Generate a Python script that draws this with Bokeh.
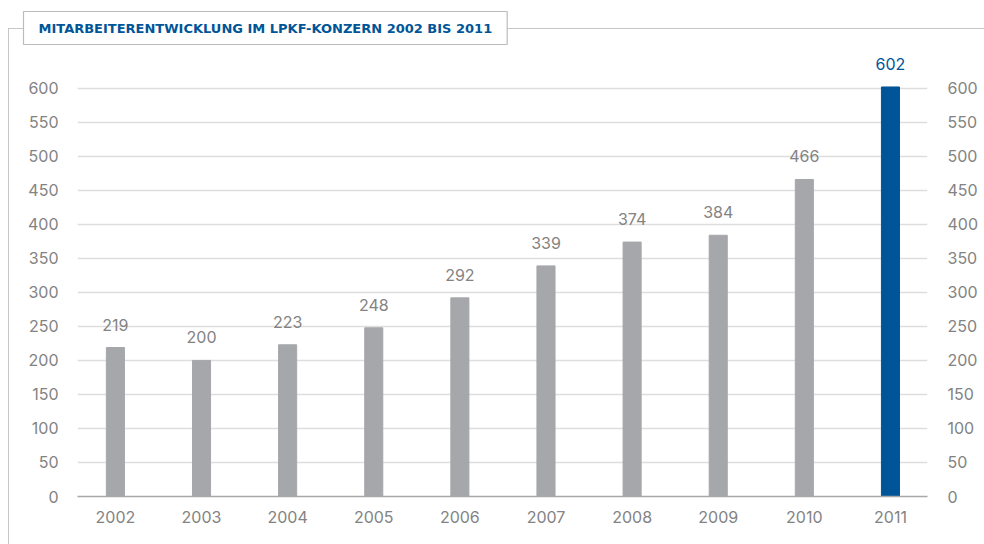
from bokeh.plotting import figure
from bokeh.models import Range1d, FixedTicker, LinearAxis, ColumnDataSource, Title
from bokeh.embed import file_html
from bokeh.resources import INLINE
from bokeh.core.properties import value

# ---- data ----
years = ["2002", "2003", "2004", "2005", "2006", "2007", "2008", "2009", "2010", "2011"]
employees = [219, 200, 223, 248, 292, 339, 374, 384, 466, 602]
y_ticks = [0, 50, 100, 150, 200, 250, 300, 350, 400, 450, 500, 550, 600]
chart_title = "MITARBEITERENTWICKLUNG IM LPKF-KONZERN 2002 BIS 2011"

GRAY = "#a6a7aa"
BLUE = "#005598"
LABEL_GRAY = "#838383"
LINE = "#c6c6c6"
FONT = "Inter"

W, H = 984, 544
idx = list(range(len(years)))
bar_colors = [GRAY] * (len(years) - 1) + [BLUE]
text_colors = [LABEL_GRAY] * (len(years) - 1) + [BLUE]

src = ColumnDataSource(dict(x=idx, top=employees, color=bar_colors,
                            tcolor=text_colors, label=[str(v) for v in employees]))

# thin L-shaped frame line behind the (transparent) canvas border
frame_styles = {
    "background-image": f"linear-gradient({LINE},{LINE}), linear-gradient({LINE},{LINE})",
    "background-size": f"1px {H - 28}px, {W - 8}px 1px",
    "background-position": "8px 28px, 8px 28px",
    "background-repeat": "no-repeat",
    "background-color": "white",
}

p = figure(width=W, height=H, output_backend="svg", toolbar_location=None,
           x_range=Range1d(-0.44, 9.43), y_range=Range1d(0, 660),
           min_border_left=77, min_border_right=57, min_border_top=47,
           min_border_bottom=48, outline_line_color=None,
           background_fill_color="white", border_fill_color=None,
           styles=frame_styles)

p.vbar(x="x", top="top", width=0.21, color="color", source=src)
p.text(x="x", y="top", text="label", text_color="tcolor", source=src,
       text_align="center", text_baseline="alphabetic", y_offset=-23,
       text_font=value(FONT), text_font_size="16px")

# grid
p.xgrid.visible = False
p.ygrid.ticker = FixedTicker(ticks=y_ticks)
p.ygrid.grid_line_color = "#dedede"
p.ygrid.grid_line_width = 1.5

# x axis
xa = p.xaxis[0]
xa.ticker = FixedTicker(ticks=idx)
xa.major_label_overrides = {i: y for i, y in zip(idx, years)}
xa.axis_line_color = "#a8a8a8"
xa.axis_line_width = 1.5
xa.major_tick_line_color = None
xa.minor_tick_line_color = None
xa.major_tick_out = 0
xa.major_tick_in = 0
xa.major_label_standoff = 14
xa.major_label_text_font = FONT
xa.major_label_text_font_size = "16px"
xa.major_label_text_color = LABEL_GRAY

# y axes
ya = p.yaxis[0]
ra = LinearAxis()
p.add_layout(ra, "right")
for ax, so in ((ya, 19), (ra, 20)):
    ax.ticker = FixedTicker(ticks=y_ticks)
    ax.axis_line_color = None
    ax.major_tick_line_color = None
    ax.minor_tick_line_color = None
    ax.major_tick_out = 0
    ax.major_tick_in = 0
    ax.major_label_standoff = so
    ax.major_label_text_font = FONT
    ax.major_label_text_font_size = "16px"
    ax.major_label_text_color = LABEL_GRAY

# title box
p.title = Title(text=chart_title, align="left", offset=-54, standoff=6,
                text_font="DejaVu Sans", text_font_style="bold",
                text_font_size="13px", text_color=BLUE,
                border_line_color="#bcbcbc", border_line_width=1.2,
                background_fill_color="white", padding=(15, 9))

open("out.html", "w").write(file_html(p, INLINE))
